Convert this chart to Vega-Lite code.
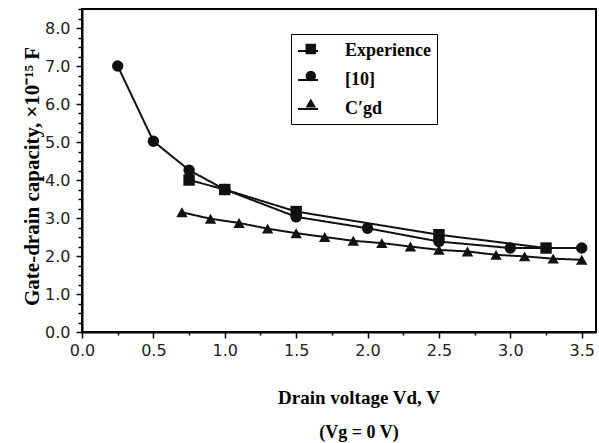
{
  "$schema": "https://vega.github.io/schema/vega-lite/v6.json",
  "width": 514,
  "height": 323,
  "autosize": {"type": "none"},
  "padding": {"left": 82, "top": 9, "right": 3, "bottom": 111},
  "background": "white",
  "config": {
    "view": {"stroke": "black", "strokeWidth": 2},
    "axis": {
      "domainColor": "black",
      "domainWidth": 2,
      "tickColor": "black",
      "tickWidth": 1.5,
      "grid": false,
      "labelFont": "DejaVu Sans",
      "labelFontSize": 16,
      "labelColor": "#222",
      "titleFont": "Liberation Serif",
      "titleFontSize": 21,
      "titleFontWeight": "bold",
      "titleColor": "black"
    }
  },
  "title": {
    "text": "Drain voltage Vd, V",
    "subtitle": "(Vg = 0 V)",
    "orient": "bottom",
    "anchor": "middle",
    "frame": "group",
    "dx": 20,
    "font": "Liberation Serif",
    "fontSize": 19,
    "fontWeight": "bold",
    "color": "black",
    "subtitleFont": "Liberation Serif",
    "subtitleFontSize": 18,
    "subtitleFontWeight": "bold",
    "subtitleColor": "black",
    "offset": 31,
    "subtitlePadding": 16
  },
  "data": {
    "values": [
      {"series": "Experience", "v": 0.75, "c": 4.0},
      {"series": "Experience", "v": 1.0, "c": 3.75},
      {"series": "Experience", "v": 1.5, "c": 3.17},
      {"series": "Experience", "v": 2.5, "c": 2.56},
      {"series": "Experience", "v": 3.25, "c": 2.21},
      {"series": "C′gd", "v": 0.7, "c": 3.15},
      {"series": "C′gd", "v": 0.9, "c": 2.98},
      {"series": "C′gd", "v": 1.1, "c": 2.87},
      {"series": "C′gd", "v": 1.3, "c": 2.72},
      {"series": "C′gd", "v": 1.5, "c": 2.6},
      {"series": "C′gd", "v": 1.7, "c": 2.5},
      {"series": "C′gd", "v": 1.9, "c": 2.4},
      {"series": "C′gd", "v": 2.1, "c": 2.34},
      {"series": "C′gd", "v": 2.3, "c": 2.25},
      {"series": "C′gd", "v": 2.5, "c": 2.16},
      {"series": "C′gd", "v": 2.7, "c": 2.12},
      {"series": "C′gd", "v": 2.9, "c": 2.03},
      {"series": "C′gd", "v": 3.1, "c": 1.99},
      {"series": "C′gd", "v": 3.3, "c": 1.93},
      {"series": "C′gd", "v": 3.5, "c": 1.9},
      {"series": "[10]", "v": 0.25, "c": 7.0},
      {"series": "[10]", "v": 0.5, "c": 5.02},
      {"series": "[10]", "v": 0.75, "c": 4.26},
      {"series": "[10]", "v": 1.0, "c": 3.75},
      {"series": "[10]", "v": 1.5, "c": 3.03},
      {"series": "[10]", "v": 2.0, "c": 2.73},
      {"series": "[10]", "v": 2.5, "c": 2.38},
      {"series": "[10]", "v": 3.0, "c": 2.21},
      {"series": "[10]", "v": 3.5, "c": 2.21}
    ]
  },
  "encoding": {
    "x": {
      "field": "v",
      "type": "quantitative",
      "scale": {"domain": [0, 3.6], "nice": false, "zero": false},
      "axis": {
        "title": null,
        "values": [0, 0.25, 0.5, 0.75, 1, 1.25, 1.5, 1.75, 2, 2.25, 2.5, 2.75, 3, 3.25, 3.5],
        "labelExpr": "datum.value % 0.5 == 0 ? format(datum.value, '.1f') : ''",
        "tickSize": {"condition": {"test": "datum.value % 0.5 == 0", "value": 6}, "value": 3},
        "labelPadding": 4,
        "labelFlush": false,
        "labelOverlap": false
      }
    },
    "y": {
      "field": "c",
      "type": "quantitative",
      "scale": {"domain": [0, 8.5], "nice": false, "zero": false},
      "axis": {
        "title": "Gate-drain capacity, ×10⁻¹⁵ F",
        "titleY": 167,
        "values": [0, 0.25, 0.5, 0.75, 1, 1.25, 1.5, 1.75, 2, 2.25, 2.5, 2.75, 3, 3.25, 3.5, 3.75, 4, 4.25, 4.5, 4.75, 5, 5.25, 5.5, 5.75, 6, 6.25, 6.5, 6.75, 7, 7.25, 7.5, 7.75, 8, 8.25, 8.5],
        "labelExpr": "datum.value % 1 == 0 && datum.value <= 8 ? format(datum.value, '.1f') : ''",
        "tickSize": {"condition": {"test": "datum.value % 1 == 0", "value": 6}, "value": 4},
        "labelPadding": 6,
        "titlePadding": 2,
        "labelFlush": false,
        "labelOverlap": false
      }
    }
  },
  "layer": [
    {
      "mark": {"type": "line", "color": "#111", "strokeWidth": 2},
      "encoding": {
        "strokeDash": {
          "field": "series",
          "type": "nominal",
          "scale": {"domain": ["Experience", "[10]", "C′gd"], "range": [[1, 0], [1, 0], [1, 0]]},
          "legend": {
            "orient": "none",
            "legendX": 209,
            "legendY": 25,
            "title": null,
            "strokeColor": "black",
            "padding": 6,
            "rowPadding": 9,
            "symbolType": "stroke",
            "symbolSize": 400,
            "symbolStrokeWidth": 2,
            "symbolStrokeColor": "#111",
            "labelFont": "Liberation Serif",
            "labelFontSize": 18,
            "labelFontWeight": "bold",
            "labelColor": "black",
            "labelOffset": 26
          }
        }
      }
    },
    {
      "mark": {"type": "point", "filled": true, "color": "#111", "opacity": 1, "size": 130},
      "encoding": {
        "shape": {
          "field": "series",
          "type": "nominal",
          "sort": ["Experience", "[10]", "C′gd"],
          "scale": {"range": ["square", "circle", "triangle-up"]},
          "legend": {
            "orient": "none",
            "legendX": 213.8,
            "legendY": 25,
            "title": null,
            "padding": 6,
            "rowPadding": 9,
            "symbolSize": 110,
            "symbolFillColor": "#111",
            "symbolStrokeColor": "#111",
            "symbolOpacity": 1,
            "labelFont": "Liberation Serif",
            "labelFontSize": 18,
            "labelFontWeight": "bold",
            "labelOpacity": 0,
            "labelOffset": 26
          }
        }
      }
    }
  ]
}
